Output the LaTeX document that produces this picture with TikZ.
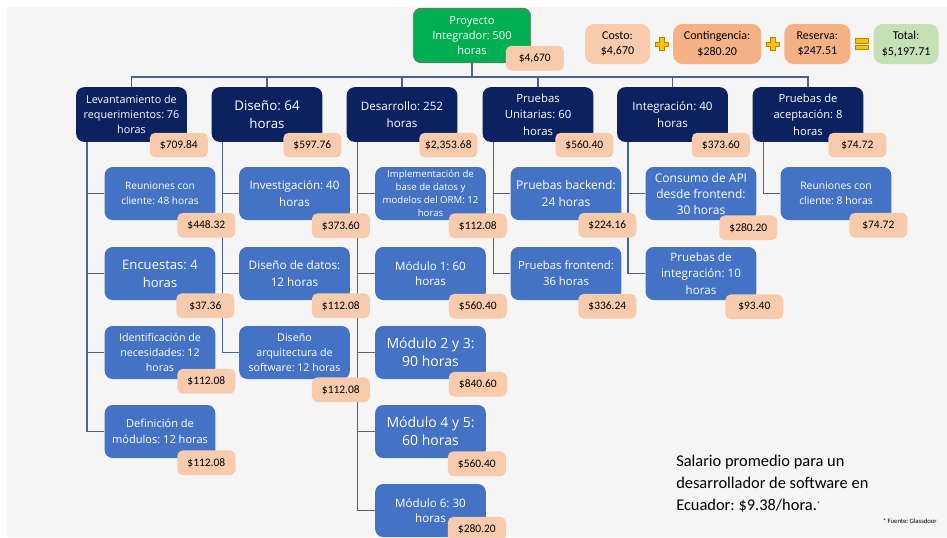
\documentclass[tikz,border=0pt]{standalone}
\usepackage{fontspec}
\setmainfont{Open Sans}
\newfontfamily\calib{Carlito}
\usetikzlibrary{positioning, calc, backgrounds}
\definecolor{navy}{HTML}{0B2160}
\definecolor{midblue}{HTML}{4472C4}
\definecolor{rootgreen}{HTML}{00B050}
\definecolor{peach}{HTML}{F8CBAD}
\definecolor{apricot}{HTML}{F4B183}
\definecolor{mint}{HTML}{C5E0B4}
\definecolor{gold}{HTML}{FFC000}
\definecolor{wirecol}{HTML}{4A6194}
\definecolor{slide}{HTML}{F5F5F5}
\newcommand\fsz[2]{\fontsize{#1}{#2}\selectfont}
\frenchspacing

\begin{document}
\begin{tikzpicture}[x=0.75pt,y=-0.75pt,
    wire/.style={draw=wirecol,line width=1.1pt},
    rootbox/.style={fill=rootgreen,draw=black!55,line width=0.6pt,text=white,rounded corners=6pt,
        minimum width=88pt,minimum height=41pt,align=center,inner sep=1pt},
    lvlone/.style={fill=navy,text=white,rounded corners=6pt,minimum width=83pt,
        minimum height=41pt,align=center,inner sep=1pt},
    lvltwo/.style={fill=midblue,text=white,rounded corners=6pt,minimum width=83pt,
        minimum height=39.75pt,align=center,inner sep=1pt},
    tag/.style={fill=peach,rounded corners=4pt,minimum width=43.5pt,minimum height=18.5pt,
        inner xsep=4pt,font=\calib\fsz{8.6}{10},anchor=east},
    sumbox/.style={rounded corners=7pt,minimum height=30pt,align=center,inner sep=2pt,
        font=\calib\fsz{9}{11.5}},
    opsign/.style={fill=gold,draw=gold!70!black,line width=0.4pt},
    node distance=17pt]

\useasboundingbox (0,0) rectangle (947,537);
\clip (0,0) rectangle (947,537);

% root and summary row
\node[rootbox,font=\fsz{8.3}{11.5}] (root) at (472,35.5) {Proyecto\\Integrador: 500\\horas};
\node[tag,inner xsep=6pt] (rootc) at ([shift={(33,-5)}]root.south east) {\$4,670};

\node[sumbox,fill=peach,minimum width=48.75pt] (costo) at (617.5,44) {Costo:\\\$4,670};
\node[sumbox,fill=apricot,minimum width=66pt,right=of costo] (conting) {Contingencia:\\\$280.20};
\node[sumbox,fill=apricot,minimum width=49.5pt,right=of conting] (reserva) {Reserva:\\\$247.51};
\node[sumbox,fill=mint,minimum width=48.75pt,right=of reserva] (total) {Total:\\\$5,197.71};

\foreach \a/\b in {costo/conting,conting/reserva}
    \filldraw[opsign,shift={($(\a.east)!.5!(\b.west)$)}]
        (-2.2,-6.5) -- (2.2,-6.5) -- (2.2,-2.2) -- (6.5,-2.2) -- (6.5,2.2) -- (2.2,2.2)
        -- (2.2,6.5) -- (-2.2,6.5) -- (-2.2,2.2) -- (-6.5,2.2) -- (-6.5,-2.2) -- (-2.2,-2.2) -- cycle;
\begin{scope}[shift={($(reserva.east)!.5!(total.west)$)}]
    \filldraw[opsign] (-6.5,-5.5) rectangle (6.5,-1.2);
    \filldraw[opsign] (-6.5,1.2) rectangle (6.5,5.5);
\end{scope}

% phases
\node[lvlone,font=\fsz{8.1}{11.5}] (lev) at (131.5,114.5) {Levantamiento de\\requerimientos: 76\\horas};
\node[lvlone,font=\fsz{10}{14}] (dis) at (267,114.5) {Diseño: 64\\horas};
\node[lvlone,font=\fsz{8.7}{12.5}] (des) at (402,114.5) {Desarrollo: 252\\horas};
\node[lvlone,font=\fsz{8.5}{12.5}] (pu) at (538,114.5) {Pruebas\\Unitarias: 60\\horas};
\node[lvlone,font=\fsz{8.7}{12.5}] (integ) at (672.5,114.5) {Integración: 40\\horas};
\node[lvlone,font=\fsz{8.4}{12.5}] (pa) at (808,114.5) {Pruebas de\\aceptación: 8\\horas};

\node[tag] (levc) at ([shift={(21,3)}]lev.south east) {\$709.84};
\node[tag] (disc) at ([shift={(19,3)}]dis.south east) {\$597.76};
\node[tag] (desc) at ([shift={(20,3)}]des.south east) {\$2,353.68};
\node[tag] (puc) at ([shift={(20,3)}]pu.south east) {\$560.40};
\node[tag] (integc) at ([shift={(22,3)}]integ.south east) {\$373.60};
\node[tag] (pac) at ([shift={(23,3)}]pa.south east) {\$74.72};

% tasks
\node[lvltwo,font=\fsz{7.6}{11.3}] (lev1) at (160,193.5) {Reuniones con\\cliente: 48 horas};
\node[lvltwo,font=\fsz{9.8}{13.3}] (lev2) at (160,273.5) {Encuestas: 4\\horas};
\node[lvltwo,font=\fsz{8}{11.3}] (lev3) at (160,352.5) {Identificación de\\necesidades: 12\\horas};
\node[lvltwo,font=\fsz{8.3}{12}] (lev4) at (160,431.5) {Definición de\\módulos: 12 horas};

\node[lvltwo,font=\fsz{8.7}{12.5}] (dis1) at (294.5,193.5) {Investigación: 40\\horas};
\node[lvltwo,font=\fsz{8.8}{12.5}] (dis2) at (294.5,273.5) {Diseño de datos:\\12 horas};
\node[lvltwo,font=\fsz{8}{11.3}] (dis3) at (294.5,352.5) {Diseño\\arquitectura de\\software: 12 horas};

\node[lvltwo,font=\fsz{7.2}{9.8}] (des1) at (430.5,193.5) {Implementación de\\base de datos y\\modelos del ORM: 12\\horas};
\node[lvltwo,font=\fsz{8.7}{11.6}] (des2) at (430.5,273.5) {Módulo 1: 60\\horas};
\node[lvltwo,font=\fsz{10.5}{13.7}] (des3) at (430.5,352.5) {Módulo 2 y 3:\\90 horas};
\node[lvltwo,font=\fsz{10.5}{13.7}] (des4) at (430.5,431.5) {Módulo 4 y 5:\\60 horas};
\node[lvltwo,font=\fsz{8.7}{11.6}] (des5) at (430.5,510.5) {Módulo 6: 30\\horas};

\node[lvltwo,font=\fsz{9}{12.5}] (pu1) at (566,193.5) {Pruebas backend:\\24 horas};
\node[lvltwo,font=\fsz{8.5}{12}] (pu2) at (566,273.5) {Pruebas frontend:\\36 horas};

\node[lvltwo,font=\fsz{9}{12}] (integ1) at (701,193.5) {Consumo de API\\desde frontend:\\30 horas};
\node[lvltwo,font=\fsz{8.7}{12.5}] (integ2) at (701,273.5) {Pruebas de\\integración: 10\\horas};

\node[lvltwo,font=\fsz{7.8}{11.3}] (pa1) at (836,193.5) {Reuniones con\\cliente: 8 horas};

\node[tag] (lev1c) at ([shift={(20,5)}]lev1.south east) {\$448.32};
\node[tag] (lev2c) at ([shift={(19,5.5)}]lev2.south east) {\$37.36};
\node[tag] (lev3c) at ([shift={(20,2)}]lev3.south east) {\$112.08};
\node[tag] (lev4c) at ([shift={(20,4.5)}]lev4.south east) {\$112.08};
\node[tag] (dis1c) at ([shift={(20,5.5)}]dis1.south east) {\$373.60};
\node[tag] (dis2c) at ([shift={(20,5.5)}]dis2.south east) {\$112.08};
\node[tag] (dis3c) at ([shift={(20,10.5)}]dis3.south east) {\$112.08};
\node[tag] (des1c) at ([shift={(21,5.5)}]des1.south east) {\$112.08};
\node[tag] (des2c) at ([shift={(21,6)}]des2.south east) {\$560.40};
\node[tag] (des3c) at ([shift={(21,5)}]des3.south east) {\$840.60};
\node[tag] (des4c) at ([shift={(20,5.5)}]des4.south east) {\$560.40};
\node[tag] (des5c) at ([shift={(20,-8)}]des5.south east) {\$280.20};
\node[tag] (pu1c) at ([shift={(15,5)}]pu1.south east) {\$224.16};
\node[tag] (pu2c) at ([shift={(15,6)}]pu2.south east) {\$336.24};
\node[tag] (integ1c) at ([shift={(21,7.5)}]integ1.south east) {\$280.20};
\node[tag] (integ2c) at ([shift={(27,6.5)}]integ2.south east) {\$93.40};
\node[tag] (pa1c) at ([shift={(16,5)}]pa1.south east) {\$74.72};

% note
\node[anchor=west,align=left,inner sep=0,font=\calib\fsz{12.3}{16.5}] (salario) at (676,483.5)
    {Salario promedio para un\\desarrollador de software en\\Ecuador: \$9.38/hora.{\fsz{5}{5}\raisebox{3pt}{*}}};
\node[anchor=east,inner sep=0,font=\calib\fsz{5}{6}] (fuente) at (937,521) {* Fuente: Glassdoor};

\coordinate (bus) at (0,77);
\foreach \p in {lev,dis,des,pu,integ,pa}
    \coordinate (\p-drop) at ([shift={(11,0)}]\p.south west);

\begin{pgfonlayer}{background}
    \fill[slide] (7,7) rectangle (947,537);
    \draw[wire] (root.south) -- (root.south |- bus);
    \draw[wire] (lev.north) -- (lev.north |- bus) -- (pa.north |- bus) -- (pa.north);
    \foreach \p in {dis,des,pu,integ}
        \draw[wire] (\p.north) -- (\p.north |- bus);
    \foreach \p/\kids in {lev/{lev1,lev2,lev3,lev4},dis/{dis1,dis2,dis3},
            des/{des1,des2,des3,des4,des5},pu/{pu1,pu2},integ/{integ1,integ2},pa/{pa1}}
        \foreach \k in \kids
            \draw[wire] (\p-drop) |- (\k.west);
\end{pgfonlayer}
\end{tikzpicture}
\end{document}
